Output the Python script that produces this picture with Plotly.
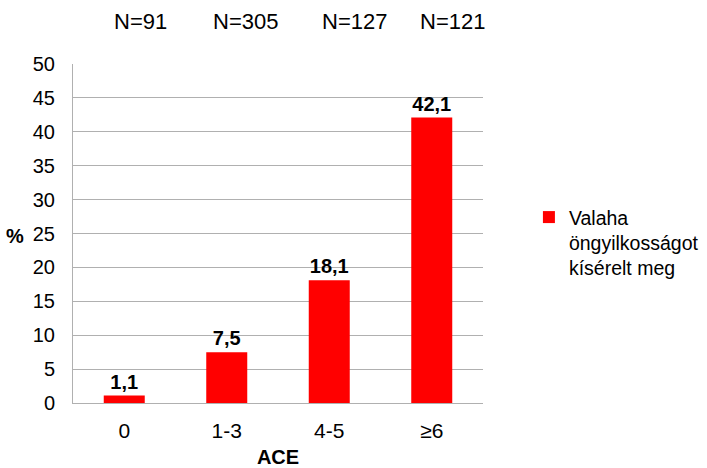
import plotly.graph_objects as go

# ACE groups and the share who ever attempted suicide (%)
categories = ["0", "1-3", "4-5", "≥6"]
values = [1.1, 7.5, 18.1, 42.1]
group_sizes = ["N=91", "N=305", "N=127", "N=121"]
series_name = "Valaha<br>öngyilkosságot<br>kísérelt meg"

FONT = "Liberation Sans, Arial, sans-serif"
GRID = "#b0b0b0"

fig = go.Figure()
fig.add_trace(go.Bar(
    x=categories,
    y=values,
    name=series_name,
    marker=dict(color="#ff0000", line=dict(width=0)),
    width=0.4,
    text=[f"{v:.1f}".replace(".", ",") for v in values],
    textposition="outside",
    textfont=dict(family=FONT, size=20, color="#000000", weight="bold"),
    cliponaxis=False,
    showlegend=True,
))

# Sample size labels above the plot
n_positions = [140, 245, 354, 452]
for label, px in zip(group_sizes, n_positions):
    fig.add_annotation(
        text=label, xref="paper", yref="paper",
        x=(px - 73) / 410, y=(468 - 19 - 65) / 341.3,
        showarrow=False, xanchor="center", yanchor="middle",
        font=dict(family=FONT, size=22, color="#000000"),
    )

# Y-axis title "%"
fig.add_annotation(
    text="<b>%</b>", xref="paper", yref="paper",
    x=(15 - 73) / 410, y=(403 - 235) / 341.3,
    showarrow=False, xanchor="center", yanchor="middle",
    font=dict(family=FONT, size=20, color="#000000"),
)

fig.update_layout(
    width=707, height=468,
    margin=dict(l=73, r=224, t=64, b=65, autoexpand=False),
    plot_bgcolor="white", paper_bgcolor="white",
    font=dict(family=FONT, size=20, color="#000000"),
    bargap=0.6,
    legend=dict(
        x=1.112, y=0.605, xanchor="left", yanchor="top",
        font=dict(family=FONT, size=19.5, color="#000000"),
        itemwidth=30, tracegroupgap=0, valign="top",
        bgcolor="rgba(0,0,0,0)",
    ),
    xaxis=dict(
        showgrid=False, showline=True, linecolor=GRID, linewidth=1,
        ticks="", tickfont=dict(family=FONT, size=21),
        ticklabelstandoff=9,
        title=dict(text="<b>ACE</b>", font=dict(family=FONT, size=20), standoff=9),
    ),
    yaxis=dict(
        range=[0, 50], dtick=5, showgrid=True, gridcolor=GRID, gridwidth=1,
        showline=True, linecolor=GRID, linewidth=1, zeroline=False,
        ticks="", tickfont=dict(family=FONT, size=20),
        ticklabelstandoff=13,
    ),
)

fig.write_html("out.html")
